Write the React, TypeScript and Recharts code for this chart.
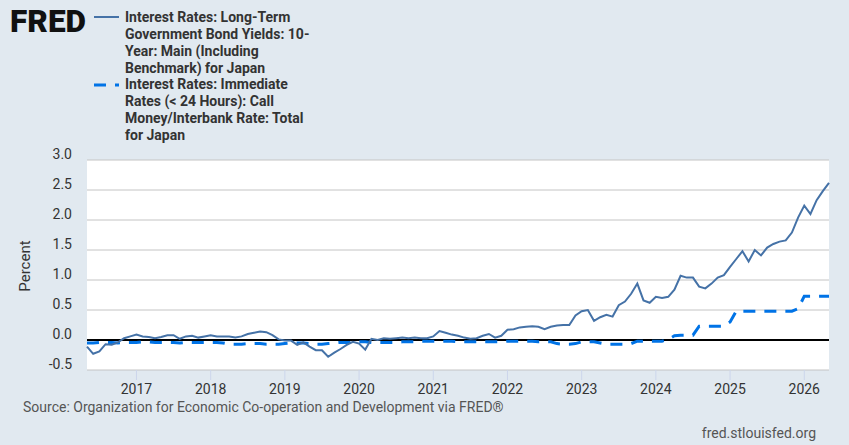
import React from 'react';
import { LineChart, Line, XAxis, YAxis, CartesianGrid, ReferenceLine } from 'recharts';

// Monthly observations, May 2016 through May 2026
const startYear = 2016;
const startMonth = 5;

const longTermYield: number[] = [
  // 2016 (May-Dec)
  -0.11, -0.23, -0.19, -0.07, -0.08, -0.04, 0.03, 0.06,
  // 2017
  0.09, 0.06, 0.05, 0.03, 0.05, 0.08, 0.08, 0.02, 0.06, 0.07, 0.04, 0.06,
  // 2018
  0.08, 0.06, 0.06, 0.06, 0.04, 0.06, 0.10, 0.12, 0.14, 0.13, 0.08, 0.01,
  // 2019
  -0.01, -0.01, -0.08, -0.04, -0.11, -0.17, -0.17, -0.28, -0.21, -0.15, -0.08, -0.03,
  // 2020
  -0.06, -0.16, 0.02, 0.0, 0.03, 0.02, 0.03, 0.04, 0.03, 0.04, 0.03, 0.03,
  // 2021
  0.06, 0.15, 0.12, 0.09, 0.07, 0.04, 0.02, 0.03, 0.07, 0.10, 0.04, 0.07,
  // 2022
  0.17, 0.18, 0.21, 0.22, 0.23, 0.22, 0.18, 0.22, 0.24, 0.25, 0.25, 0.41,
  // 2023
  0.48, 0.50, 0.32, 0.38, 0.42, 0.39, 0.58, 0.64, 0.77, 0.94, 0.66, 0.62,
  // 2024
  0.72, 0.70, 0.72, 0.84, 1.07, 1.04, 1.04, 0.89, 0.86, 0.94, 1.04, 1.08,
  // 2025
  1.22, 1.35, 1.48, 1.31, 1.50, 1.41, 1.54, 1.60, 1.64, 1.66, 1.79, 2.04,
  // 2026 (Jan-May)
  2.24, 2.10, 2.33, 2.48, 2.62,
];

const callMoneyRate: number[] = [
  // 2016 (May-Dec)
  -0.05, -0.05, -0.04, -0.04, -0.04, -0.05, -0.04, -0.04,
  // 2017
  -0.04, -0.03, -0.03, -0.04, -0.04, -0.04, -0.04, -0.05, -0.04, -0.04, -0.04, -0.04,
  // 2018
  -0.04, -0.04, -0.05, -0.07, -0.07, -0.07, -0.06, -0.06, -0.06, -0.07, -0.07, -0.07,
  // 2019
  -0.06, -0.05, -0.05, -0.05, -0.06, -0.07, -0.07, -0.06, -0.05, -0.04, -0.04, -0.04,
  // 2020
  -0.03, -0.03, -0.04, -0.04, -0.04, -0.04, -0.04, -0.03, -0.03, -0.03, -0.02, -0.02,
  // 2021
  -0.02, -0.02, -0.02, -0.02, -0.03, -0.03, -0.03, -0.03, -0.03, -0.03, -0.03, -0.03,
  // 2022
  -0.02, -0.02, -0.02, -0.02, -0.02, -0.03, -0.03, -0.03, -0.06, -0.07, -0.07, -0.06,
  // 2023
  -0.03, -0.03, -0.03, -0.05, -0.07, -0.07, -0.07, -0.07, -0.06, -0.02, -0.02, -0.02,
  // 2024
  -0.02, -0.02, 0.01, 0.07, 0.08, 0.08, 0.08, 0.23, 0.23, 0.23, 0.23, 0.23,
  // 2025
  0.30, 0.48, 0.48, 0.48, 0.48, 0.48, 0.48, 0.48, 0.48, 0.48, 0.48, 0.52,
  // 2026 (Jan-May)
  0.73, 0.73, 0.73, 0.73, 0.73,
];

const yearTicks: number[] = [2017, 2018, 2019, 2020, 2021, 2022, 2023, 2024, 2025, 2026];
const valueTicks: number[] = [-0.5, 0, 0.5, 1.0, 1.5, 2.0, 2.5, 3.0];

const legendLong: string[] = [
  'Interest Rates: Long-Term',
  'Government Bond Yields: 10-',
  'Year: Main (Including',
  'Benchmark) for Japan',
];
const legendCall: string[] = [
  'Interest Rates: Immediate',
  'Rates (< 24 Hours): Call',
  'Money/Interbank Rate: Total',
  'for Japan',
];

const data = longTermYield.map((v, i) => ({
  t: startYear + (startMonth - 1 + i) / 12,
  longTerm: v,
  call: callMoneyRate[i],
}));

const FONT = 'Roboto, "Noto Sans", sans-serif';

const YTick = (props: any) => {
  const { x, y, payload } = props;
  return (
    <text x={x} y={y - 1.5} textAnchor="end" fontSize={14} fill="#333" fontFamily={FONT}>
      {Number(payload.value).toFixed(1)}
    </text>
  );
};

export default function App() {
  return (
    <div
      style={{
        position: 'absolute',
        left: 0,
        top: 0,
        width: 849,
        height: 445,
        background: '#e1e9f0',
        overflow: 'hidden',
        fontFamily: FONT,
      }}
    >
      <div style={{ position: 'absolute', left: 0, top: 0 }}>
        <LineChart
          width={849}
          height={445}
          data={data}
          margin={{ top: 160, right: 20, bottom: 45, left: 0 }}
        >
          <CartesianGrid vertical={false} stroke="#c4c4c4" fill="#ffffff" />
          <XAxis
            dataKey="t"
            type="number"
            domain={['dataMin', 'dataMax']}
            ticks={yearTicks}
            tickFormatter={(v: number) => String(Math.round(v))}
            tick={{ fontSize: 14, fill: '#333', fontFamily: FONT }}
            tickSize={10}
            tickMargin={4}
            axisLine={false}
            tickLine={{ stroke: '#ccd6eb' }}
            height={30}
          />
          <YAxis
            type="number"
            domain={[-0.5, 3]}
            ticks={valueTicks}
            width={87}
            axisLine={false}
            tickLine={false}
            tickMargin={9}
            tick={<YTick />}
            allowDataOverflow
          />
          <ReferenceLine y={0} stroke="#000" strokeWidth={2} />
          <Line
            type="linear"
            dataKey="call"
            stroke="#0073e6"
            strokeWidth={3}
            strokeDasharray="12 9"
            dot={false}
            isAnimationActive={false}
          />
          <Line
            type="linear"
            dataKey="longTerm"
            stroke="#4572a7"
            strokeWidth={2}
            dot={false}
            isAnimationActive={false}
          />
        </LineChart>
      </div>
      <svg
        width={849}
        height={445}
        style={{ position: 'absolute', left: 0, top: 0, pointerEvents: 'none' }}
      >
        <text
          x={10}
          y={32}
          fontSize={31}
          fontWeight={900}
          fill="#111"
          fontFamily={FONT}
          textLength={76}
          lengthAdjust="spacingAndGlyphs"
        >
          FRED
        </text>
        <line x1={94} x2={119} y1={17} y2={17} stroke="#4572a7" strokeWidth={2} />
        <line x1={94} x2={119} y1={85} y2={85} stroke="#0073e6" strokeWidth={3} strokeDasharray="12 9" />
        {legendLong.concat(legendCall).map((s, i) => (
          <text
            key={i}
            x={125}
            y={21.8 + 16.9 * i}
            fontSize={14}
            fontWeight={700}
            fill="#333"
            fontFamily={FONT}
          >
            {s}
          </text>
        ))}
        <text
          x={29.5}
          y={266}
          transform="rotate(-90 29.5 266)"
          textAnchor="middle"
          fontSize={15}
          fill="#333"
          fontFamily={FONT}
        >
          Percent
        </text>
        <text x={23} y={412} fontSize={14} fill="#555" fontFamily={FONT}>
          Source: Organization for Economic Co-operation and Development via FRED®
        </text>
        <text x={816} y={438} textAnchor="end" fontSize={14} fill="#555" fontFamily={FONT}>
          fred.stlouisfed.org
        </text>
      </svg>
    </div>
  );
}
